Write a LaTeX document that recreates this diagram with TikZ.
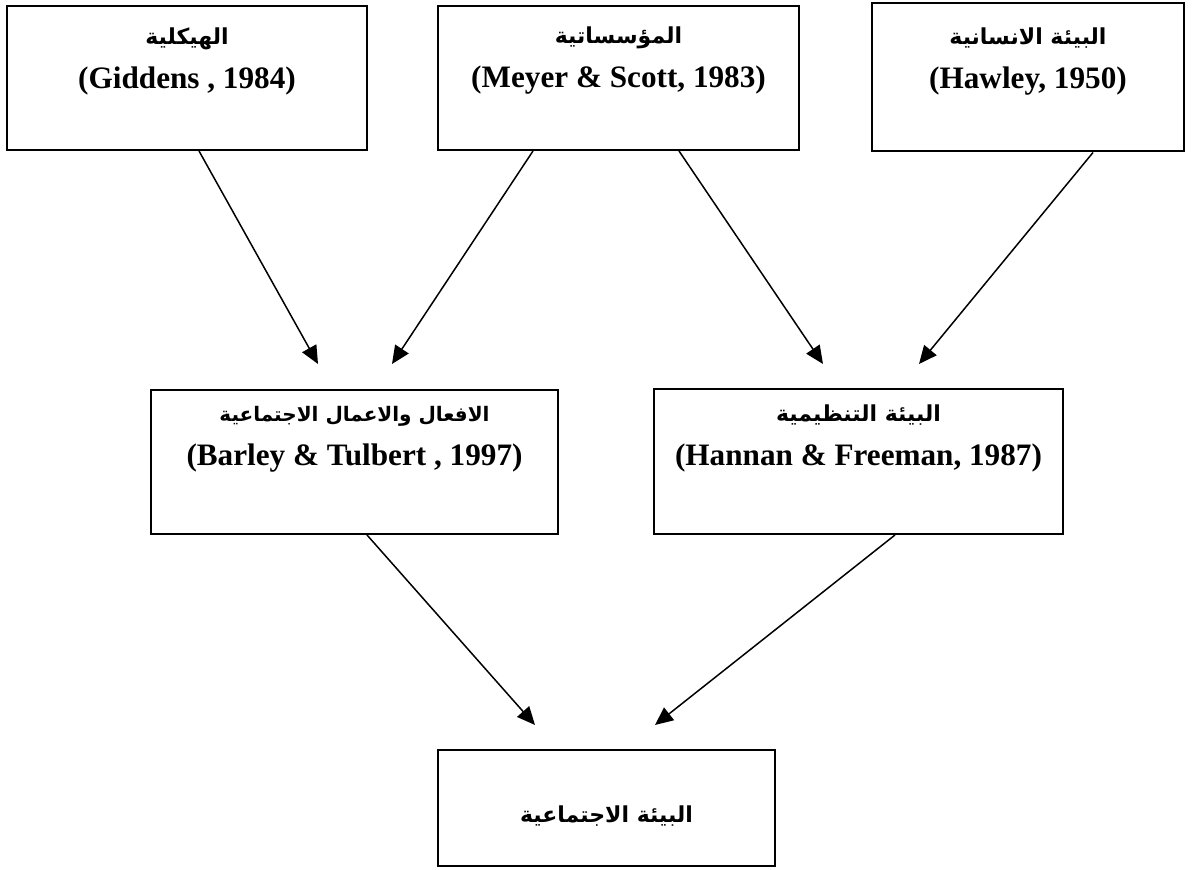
\documentclass[tikz,border=0pt]{standalone}
\usepackage{fontspec}
\setmainfont{Liberation Serif}
\newfontfamily\arabicfont[Script=Arabic]{DejaVu Sans}
\TeXXeTstate=1
\usetikzlibrary{positioning,arrows.meta}
\newcommand{\arabtxt}[2][11]{{\arabicfont\fontsize{#1}{22}\selectfont\beginR #2\endR}}

\begin{document}
\begin{tikzpicture}[x=0.5pt,y=0.5pt,
    box/.style={draw,line width=1pt,inner sep=0pt},
    lbl/.style={align=center,inner sep=0pt,font=\fontsize{15.6}{22}\selectfont\bfseries},
    arr/.style={line width=0.75pt,-{Triangle[length=9pt,width=8pt]}}]

    \useasboundingbox (0,0) rectangle (1193,870);

    % top row
    \node[box,minimum width=180pt,minimum height=72pt] (hier) at (187,792) {};
    \node[lbl] (hiertxt) at ([yshift=-28pt]hier.north)
        {\arabtxt{الهيكلية}\\(Giddens , 1984)};

    \node[box,minimum width=180.5pt,minimum height=72pt] (inst) at (618.5,792) {};
    \node[lbl] (insttxt) at ([yshift=-28pt]inst.north)
        {\arabtxt{المؤسساتية}\\(Meyer \& Scott, 1983)};

    \node[box,minimum width=156pt,minimum height=74pt] (human) at (1028,792.5) {};
    \node[lbl] (humantxt) at ([yshift=-29.5pt]human.north)
        {\arabtxt{البيئة الانسانية}\\(Hawley, 1950)};

    % middle row
    \node[box,minimum width=203.5pt,minimum height=72pt] (acts) at (354.5,408) {};
    \node[lbl] (actstxt) at ([yshift=-25pt]acts.north)
        {\arabtxt[10]{الافعال والاعمال الاجتماعية}\\(Barley \& Tulbert , 1997)};

    \node[box,minimum width=204.5pt,minimum height=72.5pt] (org) at (858.5,408.5) {};
    \node[lbl] (orgtxt) at ([yshift=-25pt]org.north)
        {\arabtxt{البيئة التنظيمية}\\(Hannan \& Freeman, 1987)};

    % bottom
    \node[box,minimum width=168.5pt,minimum height=58pt] (soc) at (606.5,62) {};
    \node[lbl] (soctxt) at ([yshift=-4pt]soc.center) {\arabtxt{البيئة الاجتماعية}};

    % arrow ends
    \coordinate (t1) at ([xshift=-18.25pt,yshift=12.5pt]acts.north);
    \coordinate (t2) at ([xshift=18.75pt,yshift=12.5pt]acts.north);
    \coordinate (t3) at ([xshift=-17.75pt,yshift=12pt]org.north);
    \coordinate (t4) at ([xshift=30.25pt,yshift=12pt]org.north);
    \coordinate (t5) at ([xshift=-35.75pt,yshift=12pt]soc.north);
    \coordinate (t6) at ([xshift=24.25pt,yshift=12pt]soc.north);

    \draw[arr] ([xshift=6pt]hier.south) -- (t1);
    \draw[arr] ([xshift=-42.75pt]inst.south) -- (t2);
    \draw[arr] ([xshift=30.25pt]inst.south) -- (t3);
    \draw[arr] ([xshift=32.5pt]human.south) -- (t4);
    \draw[arr] ([xshift=6.25pt]acts.south) -- (t5);
    \draw[arr] ([xshift=18.25pt]org.south) -- (t6);

\end{tikzpicture}
\end{document}
